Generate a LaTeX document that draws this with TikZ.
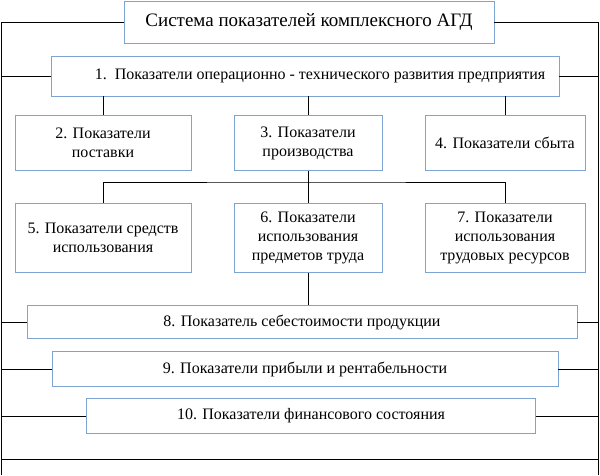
\documentclass[tikz,border=0pt]{standalone}
\usepackage{fontspec}
\setmainfont{Liberation Serif}
\definecolor{boxblue}{RGB}{126,164,212}

\begin{document}
\begin{tikzpicture}[x=1pt,y=-1pt]
  % overall canvas
  \useasboundingbox (0,0) rectangle (600,475);

  % styles
  \tikzset{
    blk/.style={draw=boxblue,line width=0.8pt,fill=white,align=center,
      font=\fontsize{16}{19}\selectfont,inner sep=0pt},
    ln/.style={draw=black,line width=0.7pt},
  }

  % white background
  \fill[white] (0,0) rectangle (600,475);

  % boxes
  \node[blk,minimum width=370pt,minimum height=42pt,font=\fontsize{19}{22}\selectfont]
    (top) at (309,22) {Система показателей комплексного АГД};
  \node[blk,minimum width=508pt,minimum height=40pt] (b1) at (305,76)
    {\hspace*{30pt}1.\enspace Показатели операционно - технического развития предприятия};
  \node[blk,minimum width=176pt,minimum height=55pt] (b2) at (103,143) {2. Показатели\\поставки};
  \node[blk,minimum width=148pt,minimum height=55pt] (b3) at (308,143) {3. Показатели\\производства};
  \node[blk,minimum width=160pt,minimum height=55pt] (b4) at (505,143) {4. Показатели сбыта};
  \node[blk,minimum width=176pt,minimum height=69pt] (b5) at (103,238) {5. Показатели средств\\использования};
  \node[blk,minimum width=148pt,minimum height=69pt] (b6) at (308,238) {6. Показатели\\использования\\предметов труда};
  \node[blk,minimum width=160pt,minimum height=69pt] (b7) at (505,238) {7. Показатели\\использования\\трудовых ресурсов};
  \node[blk,minimum width=550pt,minimum height=33pt] (b8) at (302,322) {8. Показатель себестоимости продукции};
  \node[blk,minimum width=506pt,minimum height=35pt] (b9) at (305,369) {9. Показатели прибыли и рентабельности};
  \node[blk,minimum width=449pt,minimum height=35pt] (b10) at (311,416) {10. Показатели финансового состояния};

  % outer frame lines
  \coordinate (lt) at (1,22);  \coordinate (lb) at (1,475);
  \coordinate (rt) at (598,22); \coordinate (rb) at (598,475);
  \draw[ln] (lt) -- (lb);
  \draw[ln] (rt) -- (rb);
  \draw[ln] (top.west) -- (lt);
  \draw[ln] (top.east) -- (rt);
  \foreach \n in {b1,b8,b9,b10}{
    \draw[ln] (\n.west) -- (lt |- \n.west);
    \draw[ln] (\n.east) -- (rt |- \n.east);
  }
  \draw[ln] (1,459) -- (598,459);

  % tree connectors
  \draw[ln] (b1.south -| b2.north) -- (b2.north);
  \draw[ln] (b1.south -| b3.north) -- (b3.north);
  \draw[ln] (b1.south -| b4.north) -- (b4.north);
  \coordinate (hub) at (308,182);
  \draw[ln] (b3.south) -- (b6.north);
  \draw[ln] (b5.north) |- (hub) -| (b7.north);
  \draw[ln] (b6.south) -- (b8.north -| b6.south);
\end{tikzpicture}
\end{document}
